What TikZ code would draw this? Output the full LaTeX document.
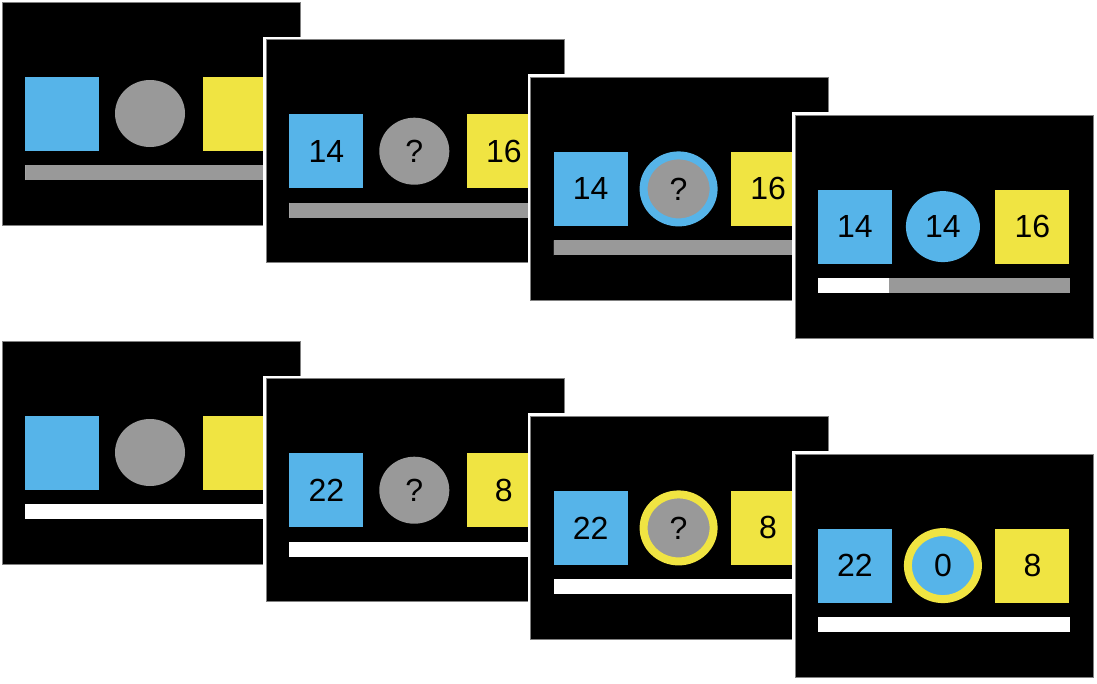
\documentclass[tikz,border=0pt]{standalone}
\usepackage{fontspec}
\setmainfont{Liberation Sans}
\usetikzlibrary{shapes.geometric}

\definecolor{skyblue}{HTML}{56B4E9}
\definecolor{lemon}{HTML}{F0E442}
\definecolor{midgray}{HTML}{999999}

\tikzset{
  tile/.style={minimum size=74pt, inner sep=0pt, font=\fontsize{32}{36}\selectfont},
  disc/.style={ellipse, minimum width=70pt, minimum height=67pt, inner sep=0pt,
    line width=8pt, font=\fontsize{32}{36}\selectfont},
}

% #1 linha, #2 ecrã; #3 esquerda; #4 centro; #5 cor do centro; #6 anel; #7 direita; #8 fim da parte branca da barra
\newcommand{\trialscreen}[8]{%
  \begin{scope}[shift={({2+264.3*#2},{2+339*#1+37.7*#2})}, name prefix=r#1s#2-]
    \fill[white] (-3,-3) rectangle (301,226);
    \filldraw[fill=black, draw=black!50, line width=0.8pt] (0,0) rectangle (298,223);
    \node[tile, fill=skyblue] (left) at (60,111.5) {#3};
    \node[disc, fill=#5, draw=#6] (mid) at (148,111.5) {#4};
    \node[tile, fill=lemon] (right) at (237.5,111.5) {#7};
    \fill[midgray] (23,163) rectangle (275,178);
    \fill[white] (23,163) rectangle (#8,178);
  \end{scope}}

\begin{document}
\begin{tikzpicture}[x=1pt, y=-1pt]
  \useasboundingbox[fill=white] (0,0) rectangle (1097,683);
  % primeira linha
  \trialscreen{0}{0}{}{}{midgray}{none}{}{23}
  \trialscreen{0}{1}{14}{?}{midgray}{none}{16}{23}
  \trialscreen{0}{2}{14}{?}{midgray}{skyblue}{16}{23}
  \trialscreen{0}{3}{14}{14}{skyblue}{skyblue, line width=4pt}{16}{94}
  % segunda linha
  \trialscreen{1}{0}{}{}{midgray}{none}{}{275}
  \trialscreen{1}{1}{22}{?}{midgray}{none}{8}{275}
  \trialscreen{1}{2}{22}{?}{midgray}{lemon}{8}{275}
  \trialscreen{1}{3}{22}{0}{skyblue}{lemon}{8}{275}
\end{tikzpicture}
\end{document}
